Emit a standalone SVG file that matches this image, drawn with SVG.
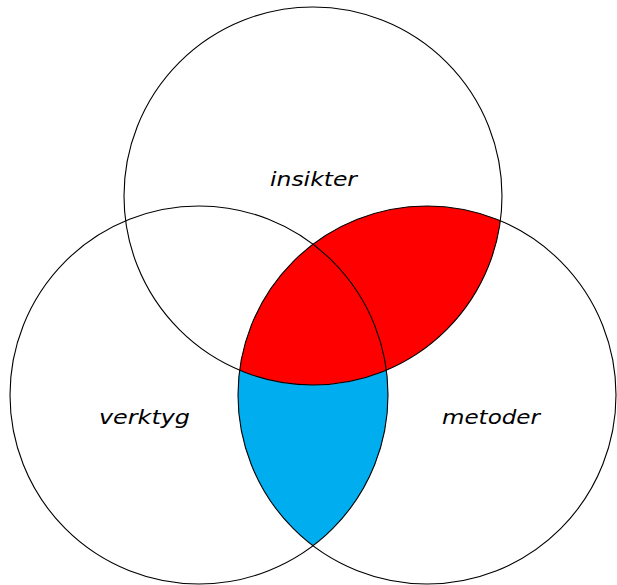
<svg xmlns="http://www.w3.org/2000/svg" width="617" height="585" viewBox="0 0 617 585">
<style>
.c{fill:none;stroke:#000;stroke-width:1.1}
.t{font-family:"DejaVu Sans",sans-serif;font-style:italic;font-size:20px;fill:#000}
</style>
<rect width="617" height="585" fill="#fff"/>
<g id="regions">
<path id="red" d="M239.63,370.18 A189,189 0 0 1 500.37,220.82 A189,189 0 0 1 239.63,370.18 Z" fill="#ff0000"/>
<path id="blue" d="M239.63,370.18 A189,189 0 0 0 386.37,370.18 A189,189 0 0 1 313,545.7 A189,189 0 0 1 239.63,370.18 Z" fill="#00aeef"/>
</g>
<g id="insikter"><circle class="c" cx="313" cy="196" r="189"/><text class="t" x="270" y="186" textLength="87" lengthAdjust="spacingAndGlyphs">insikter</text></g>
<g id="verktyg"><circle class="c" cx="199" cy="395" r="189"/><text class="t" x="99" y="424" textLength="91" lengthAdjust="spacingAndGlyphs">verktyg</text></g>
<g id="metoder"><circle class="c" cx="427" cy="395" r="189"/><text class="t" x="442" y="424" textLength="98" lengthAdjust="spacingAndGlyphs">metoder</text></g>
</svg>
